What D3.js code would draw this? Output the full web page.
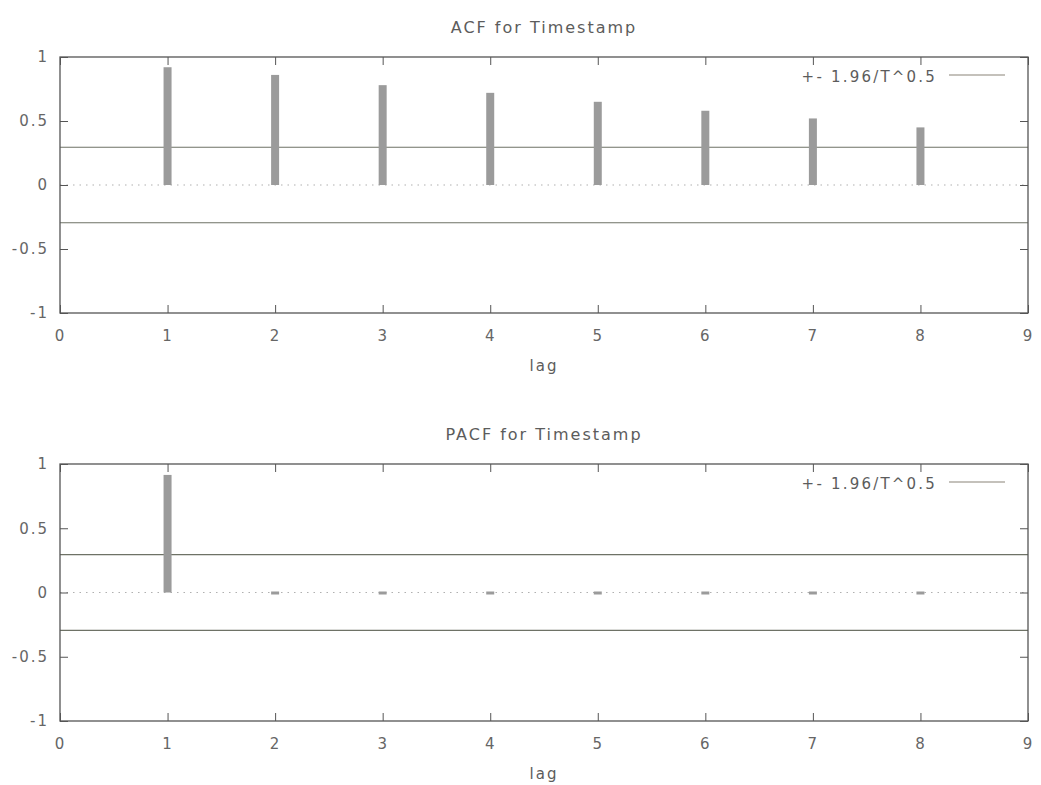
<!DOCTYPE html>
<html>
<head>
<meta charset="utf-8">
<script src="https://cdn.jsdelivr.net/npm/d3@7"></script>
<style>
  body { margin: 0; background: #fff; }
  text { font-family: "DejaVu Sans", Verdana, sans-serif; fill: #5c5c5c; }
</style>
</head>
<body>
<svg id="chart" width="1041" height="785"></svg>
<script>
const lags = [1, 2, 3, 4, 5, 6, 7, 8]
const acfValues = [0.92, 0.86, 0.78, 0.72, 0.65, 0.58, 0.52, 0.45]
const pacfValues = [0.915, -0.02, -0.015, -0.02, -0.015, -0.015, -0.012, -0.01]
const confBand = 0.295
const xTicks = [0, 1, 2, 3, 4, 5, 6, 7, 8, 9]
const yTicks = [-1, -0.5, 0, 0.5, 1]

const svg = d3.select("#chart")

function styleLabels(a) {
  a.selectAll("text")
    .attr("font-size", "15px")
    .attr("font-family", "DejaVu Sans")
    .style("letter-spacing", "2px")
    .style("fill", "#666")
}

function drawPanel(top, bottom, title, values) {
  const left = 60
  const right = 1028

  const x = d3.scaleLinear().domain([0, 9]).range([left, right])
  const y = d3.scaleLinear().domain([-1, 1]).range([bottom, top])
  const g = svg.append("g")

  g.append("text")
    .attr("x", (left + right) / 2)
    .attr("y", top - 24)
    .attr("text-anchor", "middle")
    .attr("font-size", "16px")
    .style("letter-spacing", "2px")
    .text(title)

  // zero dotted line
  g.append("line")
    .attr("x1", left).attr("x2", right)
    .attr("y1", y(0)).attr("y2", y(0))
    .attr("stroke", "#b0b0b0")
    .attr("stroke-width", 1.2)
    .attr("stroke-dasharray", "1.5,5")

  // confidence lines
  ;[confBand, -confBand].forEach((v) => {
    g.append("line")
      .attr("x1", left).attr("x2", right)
      .attr("y1", y(v)).attr("y2", y(v))
      .attr("stroke", "#6e7266")
      .attr("stroke-width", 1.2)
  })

  // bars
  g.selectAll(".bar")
    .data(lags)
    .enter()
    .append("rect")
    .attr("x", (d) => x(d) - 4)
    .attr("width", 8)
    .attr("y", (d, i) => Math.min(y(values[i]), y(0)) - (Math.abs(values[i]) < 0.03 ? 1 : 0))
    .attr("height", (d, i) => Math.max(Math.abs(y(values[i]) - y(0)), 3))
    .attr("fill", "#9b9b9b")

  // frame
  g.append("rect")
    .attr("x", left).attr("y", top)
    .attr("width", right - left).attr("height", bottom - top)
    .attr("fill", "none")
    .attr("stroke", "#555")
    .attr("stroke-width", 1.3)

  // axes with inward ticks
  g.append("g")
    .attr("transform", `translate(0,${bottom})`)
    .call(d3.axisBottom(x).tickValues(xTicks).tickSize(-8).tickPadding(17).tickFormat(d3.format("d")))
    .call((a) => a.select(".domain").remove())
    .call((a) => a.selectAll("line").attr("stroke", "#555"))
    .call(styleLabels)

  g.append("g")
    .attr("transform", `translate(0,${top})`)
    .call(d3.axisTop(x).tickValues(xTicks).tickSize(-8).tickFormat(""))
    .call((a) => a.select(".domain").remove())
    .call((a) => a.selectAll("line").attr("stroke", "#555"))

  g.append("g")
    .attr("transform", `translate(${left},0)`)
    .call(d3.axisLeft(y).tickValues(yTicks).tickSize(-8).tickPadding(11).tickFormat((d) => String(d)))
    .call((a) => a.select(".domain").remove())
    .call((a) => a.selectAll("line").attr("stroke", "#555"))
    .call(styleLabels)

  g.append("g")
    .attr("transform", `translate(${right},0)`)
    .call(d3.axisRight(y).tickValues(yTicks).tickSize(-8).tickFormat(""))
    .call((a) => a.select(".domain").remove())
    .call((a) => a.selectAll("line").attr("stroke", "#555"))

  g.append("text")
    .attr("x", (left + right) / 2)
    .attr("y", bottom + 58)
    .attr("text-anchor", "middle")
    .attr("font-size", "15px")
    .style("letter-spacing", "2px")
    .text("lag")

  // legend
  g.append("text")
    .attr("x", 937)
    .attr("y", top + 25)
    .attr("text-anchor", "end")
    .attr("font-size", "15px")
    .style("letter-spacing", "2.2px")
    .text("+- 1.96/T^0.5")
  g.append("line")
    .attr("x1", 949).attr("x2", 1005)
    .attr("y1", top + 18).attr("y2", top + 18)
    .attr("stroke", "#8a8478")
    .attr("stroke-width", 1.2)
}

drawPanel(57, 313, "ACF for Timestamp", acfValues)
drawPanel(464, 721, "PACF for Timestamp", pacfValues)
</script>
</body>
</html>
